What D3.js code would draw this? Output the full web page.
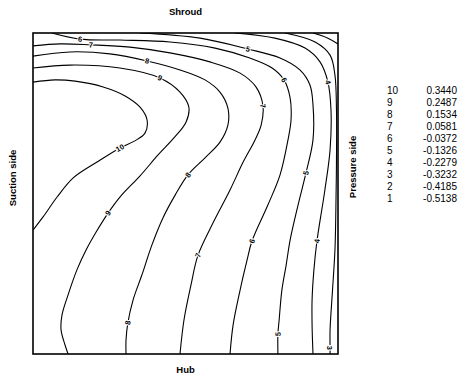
<!DOCTYPE html>
<html><head><meta charset="utf-8">
<script src="https://cdn.jsdelivr.net/npm/d3@7"></script>
<style>
body{margin:0;background:#fff}
text{font-family:"Liberation Sans",Arial,Helvetica,sans-serif;fill:#000}
</style>
</head><body>
<svg id="chart" width="469" height="379"></svg>
<script>
// Contour levels and the static-pressure coefficient each level stands for
const levels = [10, 9, 8, 7, 6, 5, 4, 3, 2, 1];
const levelValues = ["0.3440", "0.2487", "0.1534", "0.0581", "-0.0372", "-0.1326", "-0.2279", "-0.3232", "-0.4185", "-0.5138"];

// Iso-lines, as [pitch fraction from suction side, span fraction from hub]
const contour10 = [[0,.847],[.072,.854],[.138,.850],[.230,.832],[.302,.804],[.351,.769],[.374,.729],[.367,.688],[.334,.664],[.285,.642],[.210,.598],[.131,.548],[.079,.489],[.033,.427],[0,.386]];
const contour9 = [[0,.891],[.121,.900],[.285,.891],[.416,.860],[.482,.816],[.511,.769],[.502,.723],[.462,.673],[.410,.620],[.351,.555],[.285,.489],[.246,.439],[.207,.380],[.174,.324],[.144,.262],[.115,.184],[.095,.121],[.092,.075],[.105,.028],[.115,0]];
const contour8 = [[0,.928],[.121,.941],[.252,.935],[.374,.913],[.482,.885],[.564,.854],[.613,.816],[.639,.766],[.639,.713],[.613,.660],[.564,.611],[.508,.558],[.466,.495],[.426,.424],[.390,.340],[.357,.246],[.328,.168],[.311,.097],[.305,.044],[.305,0]];
const contour7 = [[0,.960],[.089,.966],[.190,.963],[.318,.956],[.449,.938],[.580,.910],[.679,.875],[.731,.832],[.754,.773],[.748,.713],[.728,.667],[.689,.598],[.646,.511],[.590,.408],[.541,.308],[.518,.215],[.495,.106],[.482,0]];
const contour6 = [[.062,1],[.154,.981],[.285,.978],[.449,.972],[.597,.953],[.711,.922],[.784,.891],[.823,.854],[.843,.798],[.846,.729],[.836,.667],[.810,.558],[.770,.464],[.718,.352],[.702,.293],[.679,.199],[.656,.090],[.646,0]];
const contour5 = [[.351,1],[.548,.984],[.705,.950],[.810,.922],[.875,.885],[.908,.838],[.918,.776],[.918,.667],[.895,.564],[.869,.464],[.843,.355],[.830,.277],[.816,.199],[.807,.106],[.803,.062],[.803,0]];
const contour4 = [[.662,1],[.793,.984],[.892,.953],[.941,.910],[.967,.847],[.977,.760],[.974,.636],[.957,.511],[.931,.352],[.921,.262],[.915,.168],[.915,.090],[.918,0]];
const contour3 = [[.826,1],[.925,.972],[.974,.931],[.990,.869],[.995,.760],[.995,.604],[.993,.449],[.990,.324],[.982,.199],[.974,.075],[.974,.019],[.974,0]];
const contour2 = [[.918,1],[.967,.984],[1,.966]];

// Which vertices of each iso-line carry an inline level label
const contours = [
  {level: 10, points: contour10, labelAt: [9]},
  {level: 9, points: contour9, labelAt: [3, 11]},
  {level: 8, points: contour8, labelAt: [3, 11, 17]},
  {level: 7, points: contour7, labelAt: [2, 8, 14]},
  {level: 6, points: contour6, labelAt: [1, 7, 13]},
  {level: 5, points: contour5, labelAt: [2, 8, 14]},
  {level: 4, points: contour4, labelAt: [4, 8]},
  {level: 3, points: contour3, labelAt: [10]},
  {level: 2, points: contour2, labelAt: []}
];

const svg = d3.select("#chart");
const plot = {left: 33, right: 338, top: 33, bottom: 354};

const x = d3.scaleLinear().domain([0, 1]).range([plot.left, plot.right]);
const y = d3.scaleLinear().domain([0, 1]).range([plot.bottom, plot.top]);

svg.append("defs").append("clipPath").attr("id", "plotClip")
  .append("rect")
  .attr("x", plot.left).attr("y", plot.top)
  .attr("width", plot.right - plot.left).attr("height", plot.bottom - plot.top);

const line = d3.line()
  .x(d => x(d[0]))
  .y(d => y(d[1]))
  .curve(d3.curveCatmullRom.alpha(0.5));

const g = svg.append("g").attr("clip-path", "url(#plotClip)");

g.selectAll("path.iso")
  .data(contours)
  .join("path")
  .attr("class", "iso")
  .attr("d", d => line(d.points))
  .attr("fill", "none")
  .attr("stroke", "#000")
  .attr("stroke-width", 1.1);

// Inline labels, turned along the local direction of the line
const labelData = contours.flatMap(c => c.labelAt.map(i => {
  const p = c.points[i];
  const a = c.points[Math.max(0, i - 1)];
  const b = c.points[Math.min(c.points.length - 1, i + 1)];
  let ang = Math.atan2(y(b[1]) - y(a[1]), x(b[0]) - x(a[0])) * 180 / Math.PI;
  if (ang > 90) ang -= 180;
  if (ang < -90) ang += 180;
  return {level: c.level, px: x(p[0]), py: y(p[1]), ang};
}));

svg.append("g").selectAll("text")
  .data(labelData)
  .join("text")
  .attr("transform", d => `translate(${d.px},${d.py}) rotate(${d.ang})`)
  .attr("text-anchor", "middle")
  .attr("dy", "0.35em")
  .attr("font-size", 7.5)
  .attr("font-weight", "bold")
  .style("fill", "#000")
  .attr("stroke", "#fff")
  .attr("stroke-width", 2)
  .attr("paint-order", "stroke")
  .text(d => d.level);

// Frame of the blade passage
svg.append("rect")
  .attr("x", plot.left).attr("y", plot.top)
  .attr("width", plot.right - plot.left).attr("height", plot.bottom - plot.top)
  .attr("fill", "none").attr("stroke", "#000").attr("stroke-width", 1.6);

// Wall names
const wall = svg.append("g").attr("font-weight", "bold").attr("font-size", 9.5);
wall.append("text").attr("x", (plot.left + plot.right) / 2).attr("y", 15)
  .attr("text-anchor", "middle").text("Shroud");
wall.append("text").attr("x", (plot.left + plot.right) / 2).attr("y", 373)
  .attr("text-anchor", "middle").text("Hub");
wall.append("text").attr("transform", "translate(16,178) rotate(-90)")
  .attr("text-anchor", "middle").text("Suction side");
wall.append("text").attr("transform", "translate(356,167) rotate(-90)")
  .attr("text-anchor", "middle").text("Pressure side");

// Level key
const row = d3.scaleBand().domain(levels).range([85, 204]);
const key = svg.append("g").attr("font-size", 10);
key.selectAll("text.lvl").data(levels).join("text")
  .attr("class", "lvl")
  .attr("x", 387).attr("y", d => row(d) + row.bandwidth() / 2)
  .attr("dy", "0.35em")
  .text(d => d);
key.selectAll("text.val").data(levels).join("text")
  .attr("class", "val")
  .attr("x", 457).attr("y", d => row(d) + row.bandwidth() / 2)
  .attr("dy", "0.35em")
  .attr("text-anchor", "end")
  .text((d, i) => levelValues[i]);
</script>
</body></html>
